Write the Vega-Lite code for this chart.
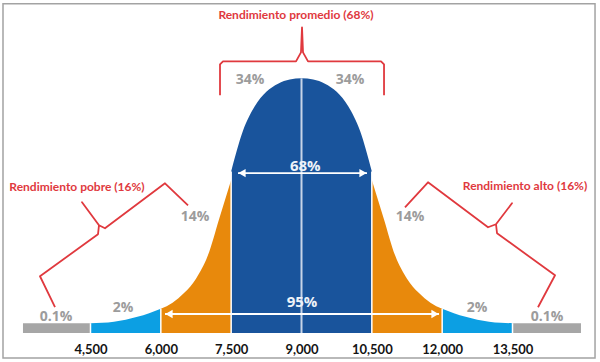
{
  "$schema": "https://vega.github.io/schema/vega-lite/v6.json",
  "width": 600,
  "height": 333,
  "autosize": "none",
  "padding": {"left": 0, "right": 0, "top": 0, "bottom": 29},
  "background": "white",
  "config": {"view": {"stroke": null}},
  "datasets": {
    "curve": [
      {"seg": "blueL", "band": "2%", "x": 4500, "h": 0},
      {"seg": "blueL", "band": "2%", "x": 4750, "h": 0.15},
      {"seg": "blueL", "band": "2%", "x": 5000, "h": 0.6},
      {"seg": "blueL", "band": "2%", "x": 5250, "h": 1.4},
      {"seg": "blueL", "band": "2%", "x": 5500, "h": 2.6},
      {"seg": "blueL", "band": "2%", "x": 5750, "h": 4.1},
      {"seg": "blueL", "band": "2%", "x": 6000, "h": 5.9},
      {"seg": "orangeL", "band": "14%", "x": 6000, "h": 5.9},
      {"seg": "orangeL", "band": "14%", "x": 6250, "h": 8.4},
      {"seg": "orangeL", "band": "14%", "x": 6500, "h": 12.4},
      {"seg": "orangeL", "band": "14%", "x": 6750, "h": 18.2},
      {"seg": "orangeL", "band": "14%", "x": 7000, "h": 27.5},
      {"seg": "orangeL", "band": "14%", "x": 7250, "h": 43},
      {"seg": "orangeL", "band": "14%", "x": 7500, "h": 58.5},
      {"seg": "dark", "band": "34%", "x": 7500, "h": 62},
      {"seg": "dark", "band": "34%", "x": 7750, "h": 78.5},
      {"seg": "dark", "band": "34%", "x": 8000, "h": 88.5},
      {"seg": "dark", "band": "34%", "x": 8250, "h": 94.5},
      {"seg": "dark", "band": "34%", "x": 8500, "h": 97.8},
      {"seg": "dark", "band": "34%", "x": 8750, "h": 99.5},
      {"seg": "dark", "band": "34%", "x": 9000, "h": 100},
      {"seg": "dark", "band": "34%", "x": 9250, "h": 99.5},
      {"seg": "dark", "band": "34%", "x": 9500, "h": 97.8},
      {"seg": "dark", "band": "34%", "x": 9750, "h": 94.5},
      {"seg": "dark", "band": "34%", "x": 10000, "h": 88.5},
      {"seg": "dark", "band": "34%", "x": 10250, "h": 78.5},
      {"seg": "dark", "band": "34%", "x": 10500, "h": 62},
      {"seg": "orangeR", "band": "14%", "x": 10500, "h": 58.5},
      {"seg": "orangeR", "band": "14%", "x": 10750, "h": 43},
      {"seg": "orangeR", "band": "14%", "x": 11000, "h": 27.5},
      {"seg": "orangeR", "band": "14%", "x": 11250, "h": 18.2},
      {"seg": "orangeR", "band": "14%", "x": 11500, "h": 12.4},
      {"seg": "orangeR", "band": "14%", "x": 11750, "h": 8.4},
      {"seg": "orangeR", "band": "14%", "x": 12000, "h": 5.9},
      {"seg": "blueR", "band": "2%", "x": 12000, "h": 5.9},
      {"seg": "blueR", "band": "2%", "x": 12250, "h": 4.1},
      {"seg": "blueR", "band": "2%", "x": 12500, "h": 2.6},
      {"seg": "blueR", "band": "2%", "x": 12750, "h": 1.4},
      {"seg": "blueR", "band": "2%", "x": 13000, "h": 0.6},
      {"seg": "blueR", "band": "2%", "x": 13250, "h": 0.15},
      {"seg": "blueR", "band": "2%", "x": 13500, "h": 0}
    ],
    "tails": [
      {"x": 3060, "x2": 4500, "h": 0},
      {"x": 13500, "x2": 14960, "h": 0}
    ],
    "separators": [
      {"x": 4500, "h": 0},
      {"x": 6000, "h": 5.9},
      {"x": 7500, "h": 62},
      {"x": 10500, "h": 62},
      {"x": 12000, "h": 5.9},
      {"x": 13500, "h": 0}
    ],
    "arrows": [
      {"label": "68%", "x": 7646, "x2": 10397, "y": 61.3, "lx": 7731, "rx": 10312},
      {"label": "95%", "x": 6089, "x2": 11933, "y": 3.76, "lx": 6174, "rx": 11847}
    ],
    "grayLabels": [
      {"t": "34%", "x": 7902, "y": 99.2},
      {"t": "34%", "x": 10034, "y": 99.2},
      {"t": "14%", "x": 6729, "y": 43.3},
      {"t": "14%", "x": 11314, "y": 43.3},
      {"t": "2%", "x": 5193, "y": 6.1},
      {"t": "2%", "x": 12743, "y": 6.1},
      {"t": "0.1%", "x": 3764, "y": 2.45},
      {"t": "0.1%", "x": 14236, "y": 2.45}
    ],
    "whiteLabels": [
      {"t": "68%", "x": 9080, "y": 64.1},
      {"t": "95%", "x": 9010, "y": 8.6}
    ],
    "redLabels": [
      {"t": "Rendimiento promedio (68%)", "x": 8883, "y": 125.7},
      {"t": "Rendimiento pobre (16%)", "x": 4212, "y": 55.5},
      {"t": "Rendimiento alto (16%)", "x": 13767, "y": 55.9}
    ],
    "braces": [
      {"b": "top", "o": 1, "x": 7262, "y": 93.06},
      {"b": "top", "o": 2, "x": 7262, "y": 105.71},
      {"b": "top", "o": 3, "x": 7326, "y": 106.94},
      {"b": "top", "o": 4, "x": 8883, "y": 106.94},
      {"b": "top", "o": 5, "x": 8989, "y": 110.61},
      {"b": "top", "o": 6, "x": 9011, "y": 120.82},
      {"b": "top", "o": 7, "x": 9032, "y": 110.61},
      {"b": "top", "o": 8, "x": 9139, "y": 106.94},
      {"b": "top", "o": 9, "x": 10696, "y": 106.94},
      {"b": "top", "o": 10, "x": 10760, "y": 105.71},
      {"b": "top", "o": 11, "x": 10760, "y": 93.06},
      {"b": "left", "o": 1, "x": 3743, "y": 6.53},
      {"b": "left", "o": 2, "x": 3423, "y": 19.18},
      {"b": "left", "o": 3, "x": 4660, "y": 36.33},
      {"b": "left", "o": 4, "x": 4681, "y": 40},
      {"b": "left", "o": 5, "x": 4319, "y": 49.39},
      {"b": "left", "o": 6, "x": 4681, "y": 40},
      {"b": "left", "o": 7, "x": 4809, "y": 38.78},
      {"b": "left", "o": 8, "x": 6089, "y": 57.14},
      {"b": "left", "o": 9, "x": 6580, "y": 48.16},
      {"b": "right", "o": 1, "x": 11207, "y": 47.35},
      {"b": "right", "o": 2, "x": 11698, "y": 57.55},
      {"b": "right", "o": 3, "x": 12978, "y": 39.18},
      {"b": "right", "o": 4, "x": 13148, "y": 40.41},
      {"b": "right", "o": 5, "x": 13489, "y": 48.98},
      {"b": "right", "o": 6, "x": 13148, "y": 40.41},
      {"b": "right", "o": 7, "x": 13170, "y": 36.73},
      {"b": "right", "o": 8, "x": 14407, "y": 19.59},
      {"b": "right", "o": 9, "x": 14044, "y": 6.53}
    ],
    "frame": [
      {"x": 2634, "x2": 15260, "y": 130.5, "y2": -14.2}
    ]
  },
  "layer": [
    {
      "data": {"name": "frame"},
      "mark": {"type": "rect", "filled": false, "stroke": "#a3a3a3", "strokeWidth": 1.5},
      "encoding": {
        "x": {"field": "x", "type": "quantitative", "scale": {"domain": [2570, 15366], "nice": false, "zero": false}, "axis": {"values": [4500, 6000, 7500, 9000, 10500, 12000, 13500], "labelExpr": "format(datum.value, ',')", "domain": false, "ticks": false, "grid": false, "title": null, "labelFont": "Lato", "labelFontWeight": "bold", "labelFontSize": 13, "labelColor": "#141414", "labelPadding": 10, "labelFlush": false}},
        "x2": {"field": "x2"},
        "y": {"field": "y", "type": "quantitative", "scale": {"domain": [-4, 132], "nice": false, "zero": false}, "axis": null},
        "y2": {"field": "y2"}
      }
    },
    {
      "data": {"name": "tails"},
      "mark": {"type": "rect", "color": "#a6a6a6"},
      "encoding": {
        "x": {"field": "x", "type": "quantitative"},
        "x2": {"field": "x2"},
        "y": {"field": "h", "type": "quantitative"},
        "y2": {"datum": -4}
      }
    },
    {
      "data": {"name": "curve"},
      "mark": {"type": "area", "interpolate": "monotone"},
      "encoding": {
        "x": {"field": "x", "type": "quantitative"},
        "y": {"field": "h", "type": "quantitative", "stack": null},
        "y2": {"datum": -4},
        "detail": {"field": "seg", "type": "nominal"},
        "color": {"field": "band", "type": "nominal", "legend": null, "scale": {"domain": ["2%", "14%", "34%"], "range": ["#0c9fe3", "#e8890c", "#19549c"]}}
      }
    },
    {
      "data": {"name": "separators"},
      "mark": {"type": "rule", "color": "white", "strokeWidth": 1.5},
      "encoding": {
        "x": {"field": "x", "type": "quantitative"},
        "y": {"field": "h", "type": "quantitative"},
        "y2": {"datum": -4}
      }
    },
    {
      "data": {"values": [{"x": 9000, "h": 100}]},
      "mark": {"type": "rule", "color": "#c7d4e8", "strokeWidth": 2},
      "encoding": {
        "x": {"field": "x", "type": "quantitative"},
        "y": {"field": "h", "type": "quantitative"},
        "y2": {"datum": -4}
      }
    },
    {
      "data": {"name": "arrows"},
      "mark": {"type": "rule", "color": "white", "strokeWidth": 1.8},
      "encoding": {
        "x": {"field": "x", "type": "quantitative"},
        "x2": {"field": "x2"},
        "y": {"field": "y", "type": "quantitative"}
      }
    },
    {
      "data": {"name": "arrows"},
      "mark": {"type": "point", "shape": "triangle-left", "filled": true, "color": "white", "size": 70, "opacity": 1},
      "encoding": {
        "x": {"field": "lx", "type": "quantitative"},
        "y": {"field": "y", "type": "quantitative"}
      }
    },
    {
      "data": {"name": "arrows"},
      "mark": {"type": "point", "shape": "triangle-right", "filled": true, "color": "white", "size": 70, "opacity": 1},
      "encoding": {
        "x": {"field": "rx", "type": "quantitative"},
        "y": {"field": "y", "type": "quantitative"}
      }
    },
    {
      "data": {"name": "grayLabels"},
      "mark": {"type": "text", "font": "Open Sans", "fontWeight": "bold", "fontSize": 14, "color": "#9c9c9c", "baseline": "middle", "align": "center"},
      "encoding": {
        "x": {"field": "x", "type": "quantitative"},
        "y": {"field": "y", "type": "quantitative"},
        "text": {"field": "t", "type": "nominal"}
      }
    },
    {
      "data": {"name": "whiteLabels"},
      "mark": {"type": "text", "font": "Open Sans", "fontWeight": "bold", "fontSize": 15, "color": "#eef2f8", "baseline": "middle", "align": "center"},
      "encoding": {
        "x": {"field": "x", "type": "quantitative"},
        "y": {"field": "y", "type": "quantitative"},
        "text": {"field": "t", "type": "nominal"}
      }
    },
    {
      "data": {"name": "braces"},
      "mark": {"type": "line", "color": "#e0393e", "strokeWidth": 1.8, "strokeJoin": "round"},
      "encoding": {
        "x": {"field": "x", "type": "quantitative"},
        "y": {"field": "y", "type": "quantitative"},
        "detail": {"field": "b", "type": "nominal"},
        "order": {"field": "o", "type": "quantitative"}
      }
    },
    {
      "data": {"name": "redLabels"},
      "mark": {"type": "text", "font": "Lato", "fontWeight": "bold", "fontSize": 12, "color": "#e0393e", "baseline": "middle", "align": "center"},
      "encoding": {
        "x": {"field": "x", "type": "quantitative"},
        "y": {"field": "y", "type": "quantitative"},
        "text": {"field": "t", "type": "nominal"}
      }
    }
  ]
}
